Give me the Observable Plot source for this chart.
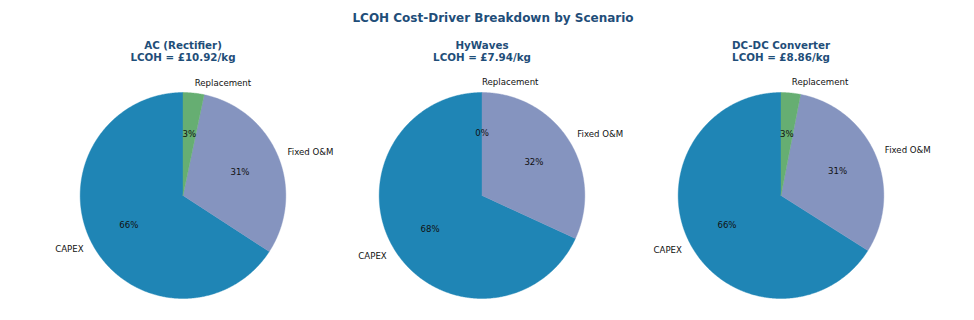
<!DOCTYPE html>
<html>
<head>
<meta charset="utf-8">
<script src="https://cdn.jsdelivr.net/npm/d3@7"></script>
<script src="https://cdn.jsdelivr.net/npm/@observablehq/plot@0.6"></script>
<style>
  html, body { margin: 0; padding: 0; background: #fff; }
  #title {
    width: 974px; height: 30px; box-sizing: border-box;
    padding-top: 11px; padding-left: 12px;
    font: bold 12px "DejaVu Sans", sans-serif; line-height: 14px;
    color: #1f4e79; text-align: center;
  }
</style>
</head>
<body>
<div id="title">LCOH Cost-Driver Breakdown by Scenario</div>
<div id="chart"></div>
<script>
// Scenarios and their levelised cost of hydrogen (£/kg)
const scenarios = ["AC (Rectifier)", "HyWaves", "DC-DC Converter"];
const lcoh = [10.92, 7.94, 8.86];

// Cost drivers, in wedge order (counter-clockwise from 12 o'clock)
const drivers = ["CAPEX", "Fixed O&M", "Replacement"];
const driverColors = ["#1f85b5", "#8594bf", "#66ae72"];

// Contribution of each driver to LCOH (£/kg), one value per scenario
const capex = [7.19, 5.41, 5.85];
const fixedOM = [3.37, 2.53, 2.74];
const replacement = [0.36, 0.00, 0.27];

const series = [capex, fixedOM, replacement];

// Wedge outlines, label anchors and percentage anchors in unit-circle space
const wedgePts = [];
const labels = [];
const pcts = [];
scenarios.forEach((s, si) => {
  const vals = series.map(v => v[si]);
  const total = d3.sum(vals);
  let cum = 0;
  vals.forEach((v, k) => {
    const a0 = 90 + 360 * cum / total;
    cum += v;
    const a1 = 90 + 360 * cum / total;
    if (v > 0) {
      const n = Math.max(2, Math.ceil((a1 - a0) / 0.5));
      wedgePts.push({scenario: s, driver: drivers[k], x: 0, y: 0});
      for (let i = 0; i <= n; i++) {
        const a = (a0 + (a1 - a0) * i / n) * Math.PI / 180;
        wedgePts.push({scenario: s, driver: drivers[k], x: Math.cos(a), y: Math.sin(a)});
      }
      wedgePts.push({scenario: s, driver: drivers[k], x: 0, y: 0});
    }
    const mid = (a0 + a1) / 2 * Math.PI / 180;
    labels.push({scenario: s, text: drivers[k], x: 1.1 * Math.cos(mid), y: 1.1 * Math.sin(mid)});
    pcts.push({scenario: s, text: d3.format(".0f")(100 * v / total) + "%", x: 0.6 * Math.cos(mid), y: 0.6 * Math.sin(mid)});
  });
});

const titles = scenarios.map((s, i) => ({scenario: s, text: `${s}\nLCOH = £${lcoh[i].toFixed(2)}/kg`}));

const R = 103; // pie radius in pixels
const W = 974, H = 290;
const mL = 32, mR = 43.5;
const bandW = (W - mL - mR) / scenarios.length;
const cy = 165;
const yHalf = 1.2;
const mT = cy - yHalf * R;
const mB = H - mT - 2 * yHalf * R;
const xHalf = bandW / 2 / R;

const chart = Plot.plot({
  width: W,
  height: H,
  marginLeft: mL,
  marginRight: mR,
  marginTop: mT,
  marginBottom: mB,
  style: {fontFamily: "DejaVu Sans, sans-serif", background: "#fff", overflow: "visible"},
  fx: {domain: scenarios, padding: 0, axis: null},
  x: {domain: [-xHalf, xHalf], axis: null},
  y: {domain: [-yHalf, yHalf], axis: null},
  color: {domain: drivers, range: driverColors},
  marks: [
    Plot.line(wedgePts, {fx: "scenario", x: "x", y: "y", z: "driver", fill: "driver", stroke: "driver", strokeWidth: 0.4, curve: "linear"}),
    Plot.text(labels.filter(d => d.x > 0), {fx: "scenario", x: "x", y: "y", text: "text", textAnchor: "start", fontSize: 8.6, fill: "#111"}),
    Plot.text(labels.filter(d => d.x <= 0), {fx: "scenario", x: "x", y: "y", text: "text", textAnchor: "end", fontSize: 8.6, fill: "#111"}),
    Plot.text(pcts, {fx: "scenario", x: "x", y: "y", text: "text", textAnchor: "middle", fontSize: 8.6, fill: "#111"}),
    Plot.text(titles, {fx: "scenario", text: "text", frameAnchor: "top", dy: -32.2, lineHeight: 1.22, fontSize: 10.3, fontWeight: "bold", fill: "#1f4e79"})
  ]
});

document.getElementById("chart").appendChild(chart);
</script>
</body>
</html>
